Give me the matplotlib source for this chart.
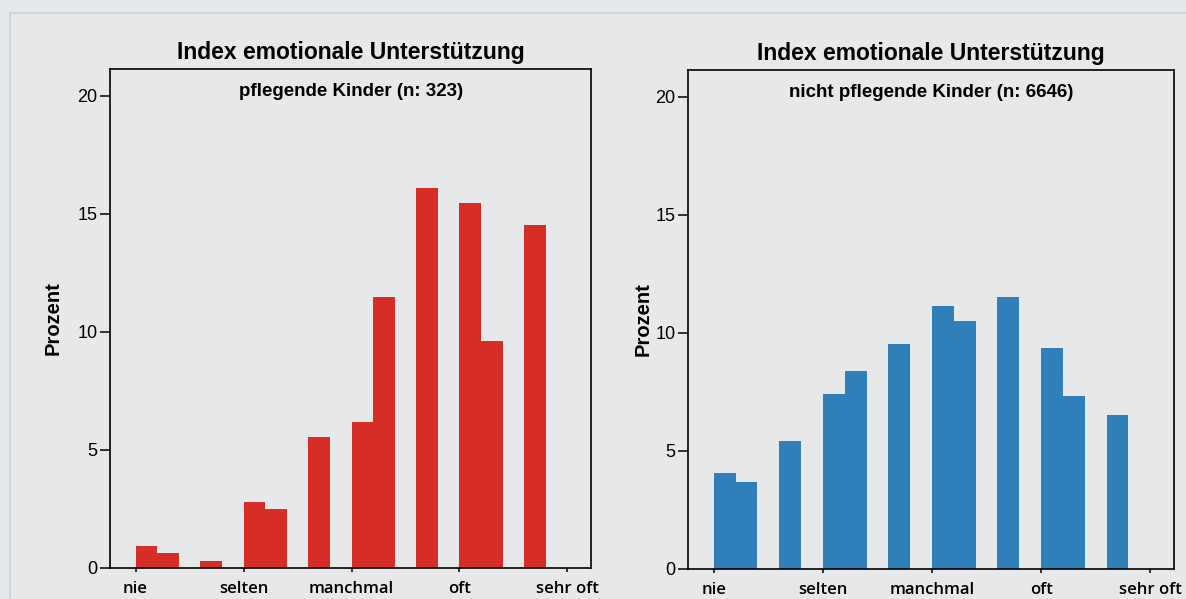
import matplotlib
matplotlib.use("Agg")
import matplotlib.pyplot as plt
from matplotlib.patches import Rectangle

# Index-Werte (linke Kante der Klassen, Breite 0.2), nie=1 ... sehr oft=5
bin_left = [1.0, 1.2, 1.6, 2.0, 2.2, 2.6, 3.0, 3.2, 3.6, 4.0, 4.2, 4.6]
bin_width = 0.2

# Prozentwerte
pflegend = [0.93, 0.62, 0.31, 2.79, 2.48, 5.57, 6.19, 11.46, 16.10, 15.48, 9.60, 14.55]
nicht_pflegend = [4.07, 3.67, 5.44, 7.41, 8.37, 9.55, 11.13, 10.52, 11.54, 9.37, 7.33, 6.54]

x_ticks = [1, 2, 3, 4, 5]
x_labels = ["nie", "selten", "manchmal", "oft", "sehr oft"]
y_ticks = [0, 5, 10, 15, 20]

title = "Index emotionale Unterstützung"
sub_left = "pflegende Kinder (n: 323)"
sub_right = "nicht pflegende Kinder (n: 6646)"

bg = "#e6e8e9"
red = "#d62e26"
blue = "#2f7fba"

plt.rcParams["font.family"] = ["Liberation Sans", "DejaVu Sans"]

fig = plt.figure(figsize=(11.86, 5.99), dpi=100, facecolor=bg)

# leichter Rahmen wie im Scan
fig.patches.append(Rectangle((10 / 1186, -0.05), 1.2, (599 - 13) / 599 + 0.05,
                             transform=fig.transFigure, fill=False,
                             edgecolor="#d3d6d8", linewidth=1.5))

panels = [
    ([0.0929, 0.0518, 0.4056, 0.833], pflegend, red, sub_left, -0.098),
    ([0.5802, 0.0501, 0.4099, 0.833], nicht_pflegend, blue, sub_right, -0.073),
]

for rect, values, color, subtitle, ylab_x in panels:
    ax = fig.add_axes(rect)
    ax.set_facecolor(bg)
    ax.bar(bin_left, values, width=bin_width, align="edge", color=color, edgecolor="none")

    ax.set_xlim(0.765, 5.22)
    ax.set_ylim(0, 21.14)

    ax.set_yticks(y_ticks)
    ax.set_yticklabels([str(v) for v in y_ticks], fontsize=13)
    ax.tick_params(axis="y", length=7, width=1.1, pad=2, color="black")

    ax.set_xticks(x_ticks)
    ax.set_xticklabels(x_labels, fontsize=12, family=["Open Sans", "DejaVu Sans"],
                       fontweight="semibold")
    ax.tick_params(axis="x", length=3, width=1.1, pad=6.5, color="black")

    for sp in ax.spines.values():
        sp.set_linewidth(1.2)
        sp.set_color("black")

    ax.set_ylabel("Prozent", fontsize=14.5, fontweight="bold")
    ax.yaxis.set_label_coords(ylab_x, 0.5)

    ax.text(0.5, 1.034, title, transform=ax.transAxes, ha="center", va="center",
            fontsize=16.5, fontweight="bold")
    ax.text(0.5, 0.954, subtitle, transform=ax.transAxes, ha="center", va="center",
            fontsize=13.5, fontweight="bold")

fig.savefig("out.png", dpi=100, facecolor=bg)
